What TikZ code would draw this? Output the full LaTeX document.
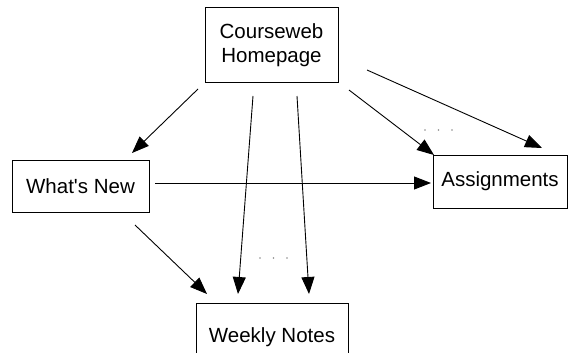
\documentclass[tikz,border=0pt]{standalone}
\usepackage{fontspec}
\setmainfont{Liberation Sans}
\usetikzlibrary{arrows.meta}
\tikzset{
  page/.style={draw=black, line width=1pt, fill=white, inner sep=0pt, align=center,
    font=\fontsize{20.5}{24}\selectfont},
  link/.style={draw=black, line width=0.9pt, -{Triangle[length=17pt,width=13pt]}},
  ellip/.style={fill=black!45, draw=none, radius=0.9pt}
}
\begin{document}
\begin{tikzpicture}[x=1pt,y=-1pt]
  \clip (0,0) rectangle (568,353);
  \fill[white] (0,0) rectangle (568,353);

  % pages of the site
  \node[page, minimum width=133pt, minimum height=75pt] (home) at (271.5,45.5)
    {Courseweb\\Homepage};
  \node[page, minimum width=137pt, minimum height=52pt] (new) at (80.5,186)
    {What\textquotesingle s New};
  \node[page, minimum width=134pt, minimum height=53pt] (asg) at (500,181.5) {Assignments};
  \node[page, minimum width=152pt, minimum height=60pt, text depth=0pt, anchor=north]
    (notes) at (272,303) {\raisebox{-3pt}{Weekly Notes}};

  % link end points
  \coordinate (h1) at (198,89);
  \coordinate (n1) at (132,153);
  \coordinate (h2) at (253,96);
  \coordinate (w2) at (238,294);
  \coordinate (h3) at (297,96);
  \coordinate (w3) at (309,294);
  \coordinate (n4) at (135,225);
  \coordinate (w4) at (207,294);
  \coordinate (h5) at (349,90);
  \coordinate (a5) at (434,155);
  \coordinate (h6) at (367,70);
  \coordinate (a6) at (542,148);
  \coordinate (n7) at (155,183);
  \coordinate (a7) at (431,183);

  % links
  \draw[link] (h1) -- (n1);
  \draw[link] (h2) -- (w2);
  \draw[link] (h3) -- (w3);
  \draw[link] (n4) -- (w4);
  \draw[link] (h5) -- (a5);
  \draw[link] (h6) -- (a6);
  \draw[link] (n7) -- (a7);

  % elided links
  \foreach \x in {260,273.5,287} \fill[ellip] (\x,258) circle;
  \foreach \x in {425,438.5,452} \fill[ellip] (\x,130) circle;
\end{tikzpicture}
\end{document}
